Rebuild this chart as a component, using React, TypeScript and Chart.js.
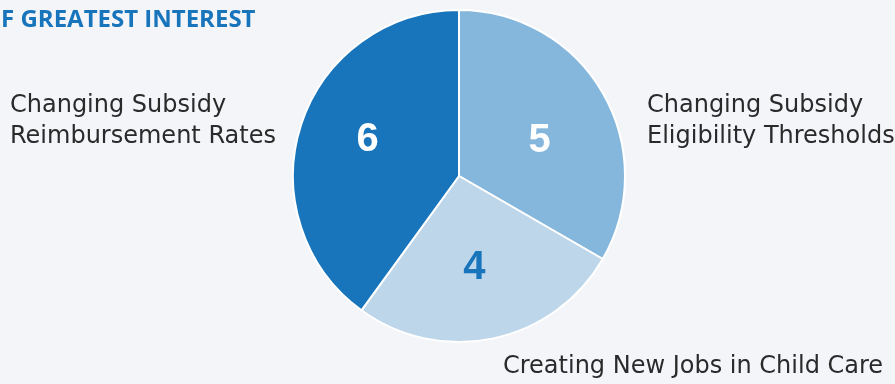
import React, { useEffect, useRef } from "react";
import { Chart, registerables } from "chart.js";

Chart.register(...registerables);

const categories = [
  "Changing Subsidy Eligibility Thresholds",
  "Creating New Jobs in Child Care",
  "Changing Subsidy Reimbursement Rates",
];
const values = [5, 4, 6];
const sliceColors = ["#85b6db", "#bed6ea", "#1874bb"];
const numberColors = ["#ffffff", "#1874bb", "#ffffff"];
const numberNudge = [
  [0, 11],
  [-4, 1],
  [-3, -7],
];
const titleText = "F GREATEST INTEREST";

const labelFont = '400 24px "DejaVu Sans", sans-serif';

const overlayPlugin = {
  id: "overlay",
  afterDraw(chart: any) {
    const ctx = chart.ctx as CanvasRenderingContext2D;
    const meta = chart.getDatasetMeta(0);
    ctx.save();
    ctx.font = 'bold 40px "Liberation Sans", Arial, sans-serif';
    ctx.textAlign = "center";
    ctx.textBaseline = "middle";
    meta.data.forEach((arc: any, i: number) => {
      const { x, y, startAngle, endAngle, outerRadius } = arc.getProps(
        ["x", "y", "startAngle", "endAngle", "outerRadius"],
        true
      );
      const mid = (startAngle + endAngle) / 2;
      const r = outerRadius * 0.56;
      ctx.fillStyle = numberColors[i];
      ctx.fillText(
        String(values[i]),
        x + Math.cos(mid) * r + numberNudge[i][0],
        y + Math.sin(mid) * r + numberNudge[i][1]
      );
    });
    ctx.font = 'bold 24px "Open Sans", sans-serif';
    ctx.fillStyle = "#1874bb";
    ctx.textAlign = "left";
    ctx.fillText(titleText, 1, 20);
    ctx.font = labelFont;
    ctx.fillStyle = "#2a2a2a";
    ctx.fillText("Changing Subsidy", 647, 106);
    ctx.fillText("Eligibility Thresholds", 647, 137);
    ctx.fillText("Changing Subsidy", 10, 106);
    ctx.fillText("Reimbursement Rates", 10, 137);
    ctx.fillText(categories[1], 503, 367);
    ctx.restore();
  },
};

export default function App() {
  const ref = useRef<HTMLCanvasElement>(null);
  useEffect(() => {
    document.body.style.margin = "0";
    document.body.style.background = "#f3f5f9";
    const chart = new Chart(ref.current!, {
      type: "pie",
      data: {
        labels: categories,
        datasets: [
          {
            data: values,
            backgroundColor: sliceColors,
            borderColor: "#ffffff",
            borderWidth: 2,
          },
        ],
      },
      options: {
        animation: false,
        responsive: false,
        layout: { padding: { left: 292, right: 269, top: 9, bottom: 41 } },
        plugins: { legend: { display: false }, tooltip: { enabled: false } },
      },
      plugins: [overlayPlugin],
    });
    return () => chart.destroy();
  }, []);
  return (
    <div style={{ width: 895, height: 384, background: "#f3f5f9" }}>
      <canvas ref={ref} width={895} height={384} />
    </div>
  );
}
